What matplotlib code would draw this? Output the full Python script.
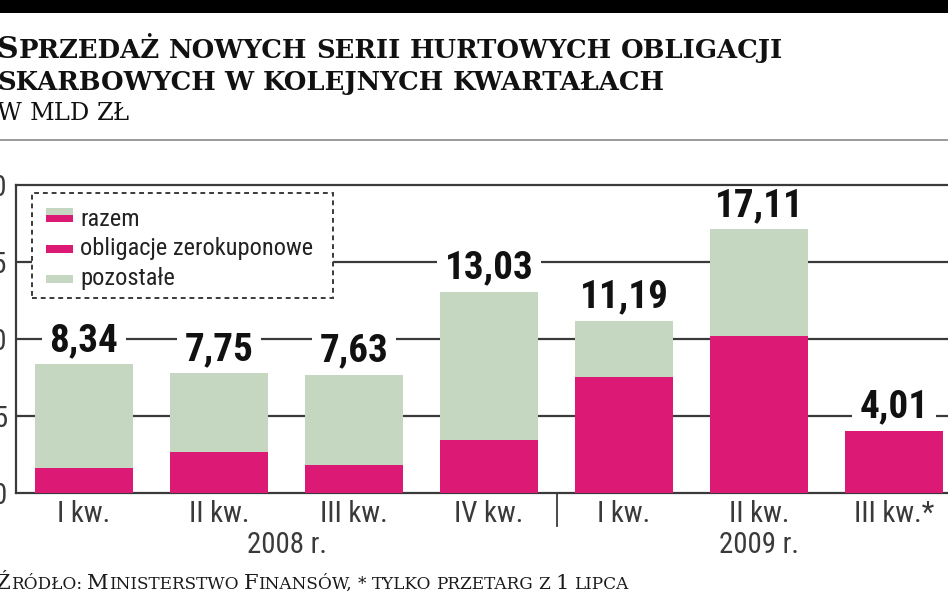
import matplotlib
matplotlib.use("Agg")
import matplotlib.pyplot as plt
from matplotlib import font_manager
from matplotlib.font_manager import FontProperties
from matplotlib.patches import Rectangle
import numpy as np

# ---------------- data ----------------
categories = ["I kw.", "II kw.", "III kw.", "IV kw.", "I kw.", "II kw.", "III kw.*"]
years = ["2008 r.", "2009 r."]
totals = [8.34, 7.75, 7.63, 13.03, 11.19, 17.11, 4.01]
zero_coupon = [1.6, 2.65, 1.8, 3.4, 7.55, 10.2, 4.01]
total_labels = ["8,34", "7,75", "7,63", "13,03", "11,19", "17,11", "4,01"]
yticks = [0, 5, 10, 15, 20]
legend_labels = ["razem", "obligacje zerokuponowe", "pozostałe"]
title_lines = ["Sprzedaż nowych serii hurtowych obligacji",
               "skarbowych w kolejnych kwartałach"]
unit_line = "w mld zł"
source_line = "Źródło: Ministerstwo Finansów, * tylko przetarg z 1 lipca"

others = [t - z for t, z in zip(totals, zero_coupon)]

PINK = "#dc1a76"
GREEN = "#c6d7c1"
DARK = "#3a3a3a"


def find_condensed(bold):
    cands = []
    for f in font_manager.fontManager.ttflist:
        fn = f.fname.lower()
        if ("narrow" in fn or "condensed" in fn) and "italic" not in fn and "oblique" not in fn:
            isbold = ("bold" in fn) or (isinstance(f.weight, int) and f.weight >= 600) or f.weight == "bold"
            if isbold == bold:
                cands.append(f.fname)
    pref = ["liberationsansnarrow", "robotocondensed", "opensanscondensed", "dejavusanscondensed"]
    for p in pref:
        for c in cands:
            if p in c.lower().replace("-", "").replace("_", ""):
                return c
    return cands[0] if cands else None


nf = find_condensed(False)
bf = find_condensed(True)
NARROW = FontProperties(fname=nf) if nf else FontProperties(family="DejaVu Sans")
NARROW_B = FontProperties(fname=bf) if bf else FontProperties(family="Liberation Sans", weight="bold")
SERIF = "DejaVu Serif"


def fp(base, size):
    p = base.copy()
    p.set_size(size)
    return p


W, H = 948, 593
fig = plt.figure(figsize=(W / 100, H / 100), dpi=100)
fig.patch.set_facecolor("white")


def fx(x):
    return x / W


def fy(y):
    return 1 - y / H


renderer = fig.canvas.get_renderer()


def width_of(s, prop):
    t = fig.text(0, 0, s, fontproperties=prop)
    w = t.get_window_extent(renderer).width
    t.remove()
    return w


# ---------------- axes ----------------
ax_left, ax_top, ax_bottom = 16, 185, 492.7
ax = fig.add_axes([fx(ax_left), fy(ax_bottom), 1 - fx(ax_left), (ax_bottom - ax_top) / H])
x = np.arange(len(categories))
bw = 0.72
ax.bar(x, zero_coupon, width=bw, color=PINK, zorder=3, linewidth=0)
ax.bar(x, others, bottom=zero_coupon, width=bw, color=GREEN, zorder=3, linewidth=0)
ax.set_xlim(-0.504, 6.4)
ax.set_ylim(0, 20)

tick_size = 19 * 80 / width_of(categories[-1], fp(NARROW, 19))
tick_size = min(tick_size, 22)
ax.set_yticks(yticks)
ax.set_yticklabels([str(v) for v in yticks], fontproperties=fp(NARROW, tick_size), color=DARK)
ax.tick_params(axis="y", length=0, pad=6.5)
ax.set_xticks(x)
ax.set_xticklabels(categories, fontproperties=fp(NARROW, tick_size), color=DARK)
ax.tick_params(axis="x", length=0, pad=5)
for yv in yticks[1:-1]:
    ax.axhline(yv, color=DARK, lw=1.6, zorder=1)
for s in ["left", "bottom", "top"]:
    ax.spines[s].set_color(DARK)
    ax.spines[s].set_linewidth(1.6)
ax.spines["right"].set_visible(False)

val_size = 25 * 89 / width_of("13,03", fp(NARROW_B, 25))
val_size = min(val_size, 31)
for xi, t, lab in zip(x, totals, total_labels):
    ax.annotate(lab, (xi, t), xytext=(0, 4), textcoords="offset points",
                ha="center", va="bottom", fontproperties=fp(NARROW_B, val_size),
                color="#111111", zorder=2,
                bbox=dict(boxstyle="square,pad=0.2", fc="white", ec="none"))

# year separator and labels
ax.plot([3.5, 3.5], [0, -2.15], color=DARK, lw=1.3, clip_on=False, zorder=5)
year_size = tick_size
ax.text(np.mean(x[:4]), -2.5, years[0], ha="center", va="top",
        fontproperties=fp(NARROW, year_size), color=DARK)
ax.text(np.mean(x[4:]), -2.5, years[1], ha="center", va="top",
        fontproperties=fp(NARROW, year_size), color=DARK)

# ---------------- header decorations ----------------
fig.add_artist(Rectangle((0, fy(13)), 1, 13 / H, transform=fig.transFigure,
                         color="black", lw=0))
fig.add_artist(plt.Line2D([0, 1], [fy(140), fy(140)], transform=fig.transFigure,
                          color="#8a8a8a", lw=1.2))


def smallcaps(x0, base, text, size, family, weight, ratio=0.8, color="#111111"):
    texts = []
    xpos = x0
    sp = fig.text(0, 0, "M M", fontsize=size * ratio, family=family, weight=weight)
    sp2 = fig.text(0, 0, "MM", fontsize=size * ratio, family=family, weight=weight)
    space = sp.get_window_extent(renderer).width - sp2.get_window_extent(renderer).width
    sp.remove(); sp2.remove()
    words = text.split(" ")
    for wi, word in enumerate(words):
        runs = []
        for ch in word:
            big = ch.isupper() or ch.isdigit()
            if runs and runs[-1][1] == big:
                runs[-1][0] += ch
            else:
                runs.append([ch, big])
        for s, big in runs:
            t = fig.text(fx(xpos), fy(base), s.upper(),
                         fontsize=size if big else size * ratio,
                         family=family, weight=weight, color=color,
                         ha="left", va="baseline")
            texts.append(t)
            xpos += t.get_window_extent(renderer).width
        if wi < len(words) - 1:
            xpos += space
    return texts, xpos - x0


def fitted_smallcaps(x0, base, text, target_w, family, weight, ratio=0.8, color="#111111", size=None):
    if size is None:
        texts, w = smallcaps(x0, base, text, 20, family, weight, ratio, color)
        for t in texts:
            t.remove()
        size = 20 * target_w / w
    texts, w = smallcaps(x0, base, text, size, family, weight, ratio, color)
    return size, w


sz, _ = fitted_smallcaps(-3, 58, title_lines[0], 786, SERIF, "bold", ratio=0.86)
fitted_smallcaps(-3, 90, title_lines[1], 687, SERIF, "bold", ratio=0.86, size=sz)
fitted_smallcaps(-3, 120, unit_line, 133, SERIF, "normal", ratio=0.86)
fitted_smallcaps(-4, 589, source_line, 634, SERIF, "normal", ratio=0.8, color="#1a1a1a")

# ---------------- legend (manual) ----------------
fig.add_artist(Rectangle((fx(32), fy(298)), (333 - 32) / W, (298 - 193) / H,
                         transform=fig.transFigure, fc="white", ec=DARK,
                         lw=1.4, ls=(0, (2.5, 2)), zorder=5))
sw_x0, sw_x1 = 46, 73
fig.add_artist(Rectangle((fx(sw_x0), fy(215)), (sw_x1 - sw_x0) / W, 7.5 / H,
                         transform=fig.transFigure, fc=GREEN, lw=0, zorder=6))
fig.add_artist(Rectangle((fx(sw_x0), fy(222)), (sw_x1 - sw_x0) / W, 7 / H,
                         transform=fig.transFigure, fc=PINK, lw=0, zorder=6))
fig.add_artist(Rectangle((fx(sw_x0), fy(253)), (sw_x1 - sw_x0) / W, 8.5 / H,
                         transform=fig.transFigure, fc=PINK, lw=0, zorder=6))
fig.add_artist(Rectangle((fx(sw_x0), fy(283)), (sw_x1 - sw_x0) / W, 8.5 / H,
                         transform=fig.transFigure, fc=GREEN, lw=0, zorder=6))
leg_y = [219, 249, 278]
lsize = 18 * 233 / width_of(legend_labels[1], fp(NARROW, 18))
lsize = min(lsize, 18.5)
for lab, yy in zip(legend_labels, leg_y):
    fig.text(fx(80), fy(yy), lab, fontproperties=fp(NARROW, lsize), color="#222222",
             ha="left", va="center", zorder=7)

fig.savefig("out.png", dpi=100)
